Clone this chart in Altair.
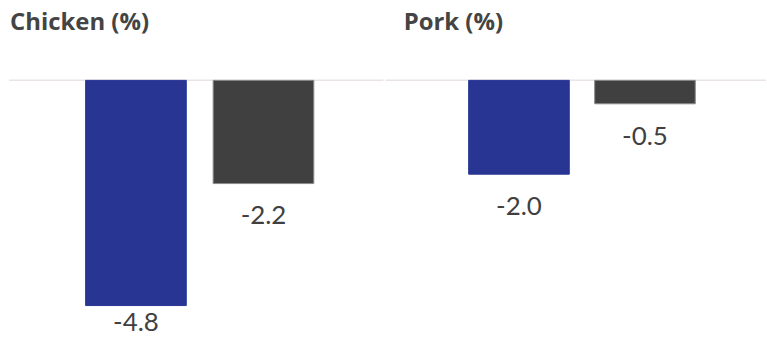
import altair as alt
import pandas as pd

# ---- data ----
periods = ["Period 1", "Period 2"]
panel_titles = ["Chicken (%)", "Pork (%)"]
chicken_values = [-4.8, -2.2]
pork_values = [-2.0, -0.5]
bar_colors = ["#283593", "#404040"]
bar_edges = ["#283593", "#8a8a8a"]

Y_MIN = -5.35
LABEL_GAP = 0.87
PLOT_H = 252


def panel(title, values, width, rng, pad_inner, pad_outer, title_dx, rule_start):
    df = pd.DataFrame({"period": periods, "value": values})
    y_scale = alt.Scale(domain=[Y_MIN, 0], clamp=True, nice=False, zero=True)
    x_enc = alt.X(
        "period:N",
        scale=alt.Scale(domain=periods, range=rng, paddingInner=pad_inner, paddingOuter=pad_outer),
        axis=None,
    )
    base = alt.Chart(df)
    rule = alt.Chart(pd.DataFrame({"z": [0]})).mark_rule(
        color="#ebe4e4", strokeWidth=1.5
    ).encode(
        y=alt.Y("z:Q", scale=y_scale, axis=None),
        x=alt.value(rule_start),
        x2=alt.value(width),
    )
    bars = base.mark_bar(strokeWidth=1).encode(
        x=x_enc,
        y=alt.Y("value:Q", scale=y_scale, axis=None),
        color=alt.Color("period:N", scale=alt.Scale(domain=periods, range=bar_colors), legend=None),
        stroke=alt.Stroke("period:N", scale=alt.Scale(domain=periods, range=bar_edges), legend=None),
    )
    labels = base.transform_calculate(
        label_y=f"datum.value - {LABEL_GAP}",
        label="replace(format(datum.value, '.1f'), '\u2212', '-')",
    ).mark_text(
        font="Lato", fontSize=26, color="#404040", baseline="alphabetic", align="center"
    ).encode(
        x=x_enc,
        y=alt.Y("label_y:Q", scale=y_scale, axis=None),
        text=alt.Text("label:N"),
    )
    return alt.layer(rule, bars, labels).properties(
        width=width,
        height=PLOT_H,
        title=alt.TitleParams(
            title,
            anchor="start",
            dx=title_dx,
            font="Open Sans",
            fontSize=24,
            fontWeight="bold",
            color="#444444",
            baseline="alphabetic",
            offset=26,
        ),
    )


left = panel(panel_titles[0], chicken_values, 385, [8, 393], 0.2109, 0.609, 10, 9)
right = panel(panel_titles[1], pork_values, 382, [7.6, 386.9], 0.2016, 0.6, 19, 0)

chart = alt.hconcat(left, right, spacing=0).properties(
    padding={"left": 0, "top": 10, "right": 0, "bottom": 0}
).configure(background="white").configure_view(stroke=None)

chart.save("out.html", embed_options={"renderer": "svg", "actions": False})
